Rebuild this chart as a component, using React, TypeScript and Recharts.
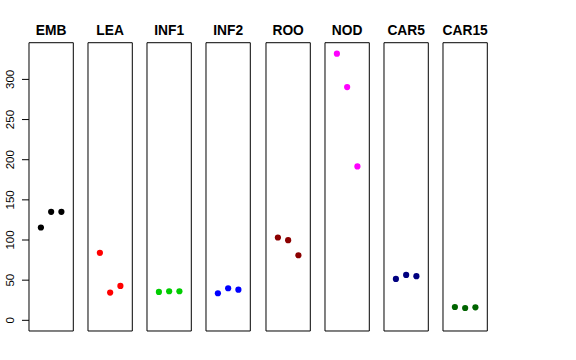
import React from 'react';
import { ScatterChart, Scatter, XAxis, YAxis, ReferenceArea } from 'recharts';

const categories = ['EMB', 'LEA', 'INF1', 'INF2', 'ROO', 'NOD', 'CAR5', 'CAR15'];
const colors = ['#000000', '#FF0000', '#00CD00', '#0000FF', '#8B0000', '#FF00FF', '#000080', '#006400'];
const replicates = [1, 2, 3];
const embValues = [115.6, 135.1, 135.1];
const leaValues = [84.0, 34.5, 42.8];
const inf1Values = [35.3, 36.2, 36.2];
const inf2Values = [33.7, 39.9, 38.2];
const rooValues = [103.1, 99.8, 81.0];
const nodValues = [332.0, 290.5, 191.6];
const car5Values = [51.5, 56.5, 54.9];
const car15Values = [16.6, 15.3, 16.2];
const yTicks = [0, 50, 100, 150, 200, 250, 300];

const seriesValues = [embValues, leaValues, inf1Values, inf2Values, rooValues, nodValues, car5Values, car15Values];

const X_DOMAIN: [number, number] = [-0.16, 4.16];
const Y_DOMAIN: [number, number] = [-13.3, 345.7];
const FONT = '"Liberation Sans", Arial, Helvetica, sans-serif';

const PANEL_LEFT0 = 29;
const PANEL_STEP = 59.14;
const PANEL_W = 44.3;
const PLOT_TOP = 42.7;
const PLOT_BOTTOM = 331;
const H = 360;

const YTick = (props: any) => {
  const { x, y, payload } = props;
  return (
    <text
      transform={`translate(${x - 5.7},${y}) rotate(-90)`}
      textAnchor="middle"
      fontSize={11.5}
      fontFamily={FONT}
      fill="#000"
    >
      {payload.value}
    </text>
  );
};

const Dot = (color: string) => (props: any) => {
  const { cx, cy } = props;
  return <circle cx={cx} cy={cy} r={3.1} fill={color} />;
};

export default function App() {
  return (
    <div style={{ position: 'absolute', left: 0, top: 0, width: 576, height: 360, background: '#fff' }}>
      {categories.map((cat, i) => {
        const first = i === 0;
        const padL = first ? 29 : 2;
        const left = PANEL_LEFT0 + i * PANEL_STEP - padL;
        const width = padL + PANEL_W + 2;
        const data = replicates.map((r, k) => ({ x: r, y: seriesValues[i][k] }));
        return (
          <div key={cat} style={{ position: 'absolute', left, top: 0, width, height: H }}>
            <ScatterChart
              width={width}
              height={H}
              margin={{ top: PLOT_TOP, bottom: H - PLOT_BOTTOM, left: first ? 0 : 2, right: 2 }}
              style={{ overflow: 'visible' }}
            >
              <XAxis type="number" dataKey="x" domain={X_DOMAIN} hide allowDataOverflow />
              <YAxis
                type="number"
                dataKey="y"
                domain={Y_DOMAIN}
                allowDataOverflow
                hide={!first}
                width={29}
                ticks={yTicks}
                interval={0}
                tickSize={7}
                tickMargin={2}
                axisLine={false}
                tickLine={{ stroke: '#000', strokeWidth: 1 }}
                tick={<YTick />}
              />
              <ReferenceArea
                x1={X_DOMAIN[0]}
                x2={X_DOMAIN[1]}
                y1={Y_DOMAIN[0]}
                y2={Y_DOMAIN[1]}
                fill="none"
                fillOpacity={0}
                stroke="#000"
                strokeWidth={1}
                strokeOpacity={1}
                label={{
                  value: cat,
                  position: 'top',
                  offset: 8,
                  fill: '#000',
                  fontSize: 13.8,
                  fontWeight: 'bold',
                  fontFamily: FONT,
                }}
              />
              <Scatter data={data} isAnimationActive={false} shape={Dot(colors[i])} />
            </ScatterChart>
          </div>
        );
      })}
    </div>
  );
}
